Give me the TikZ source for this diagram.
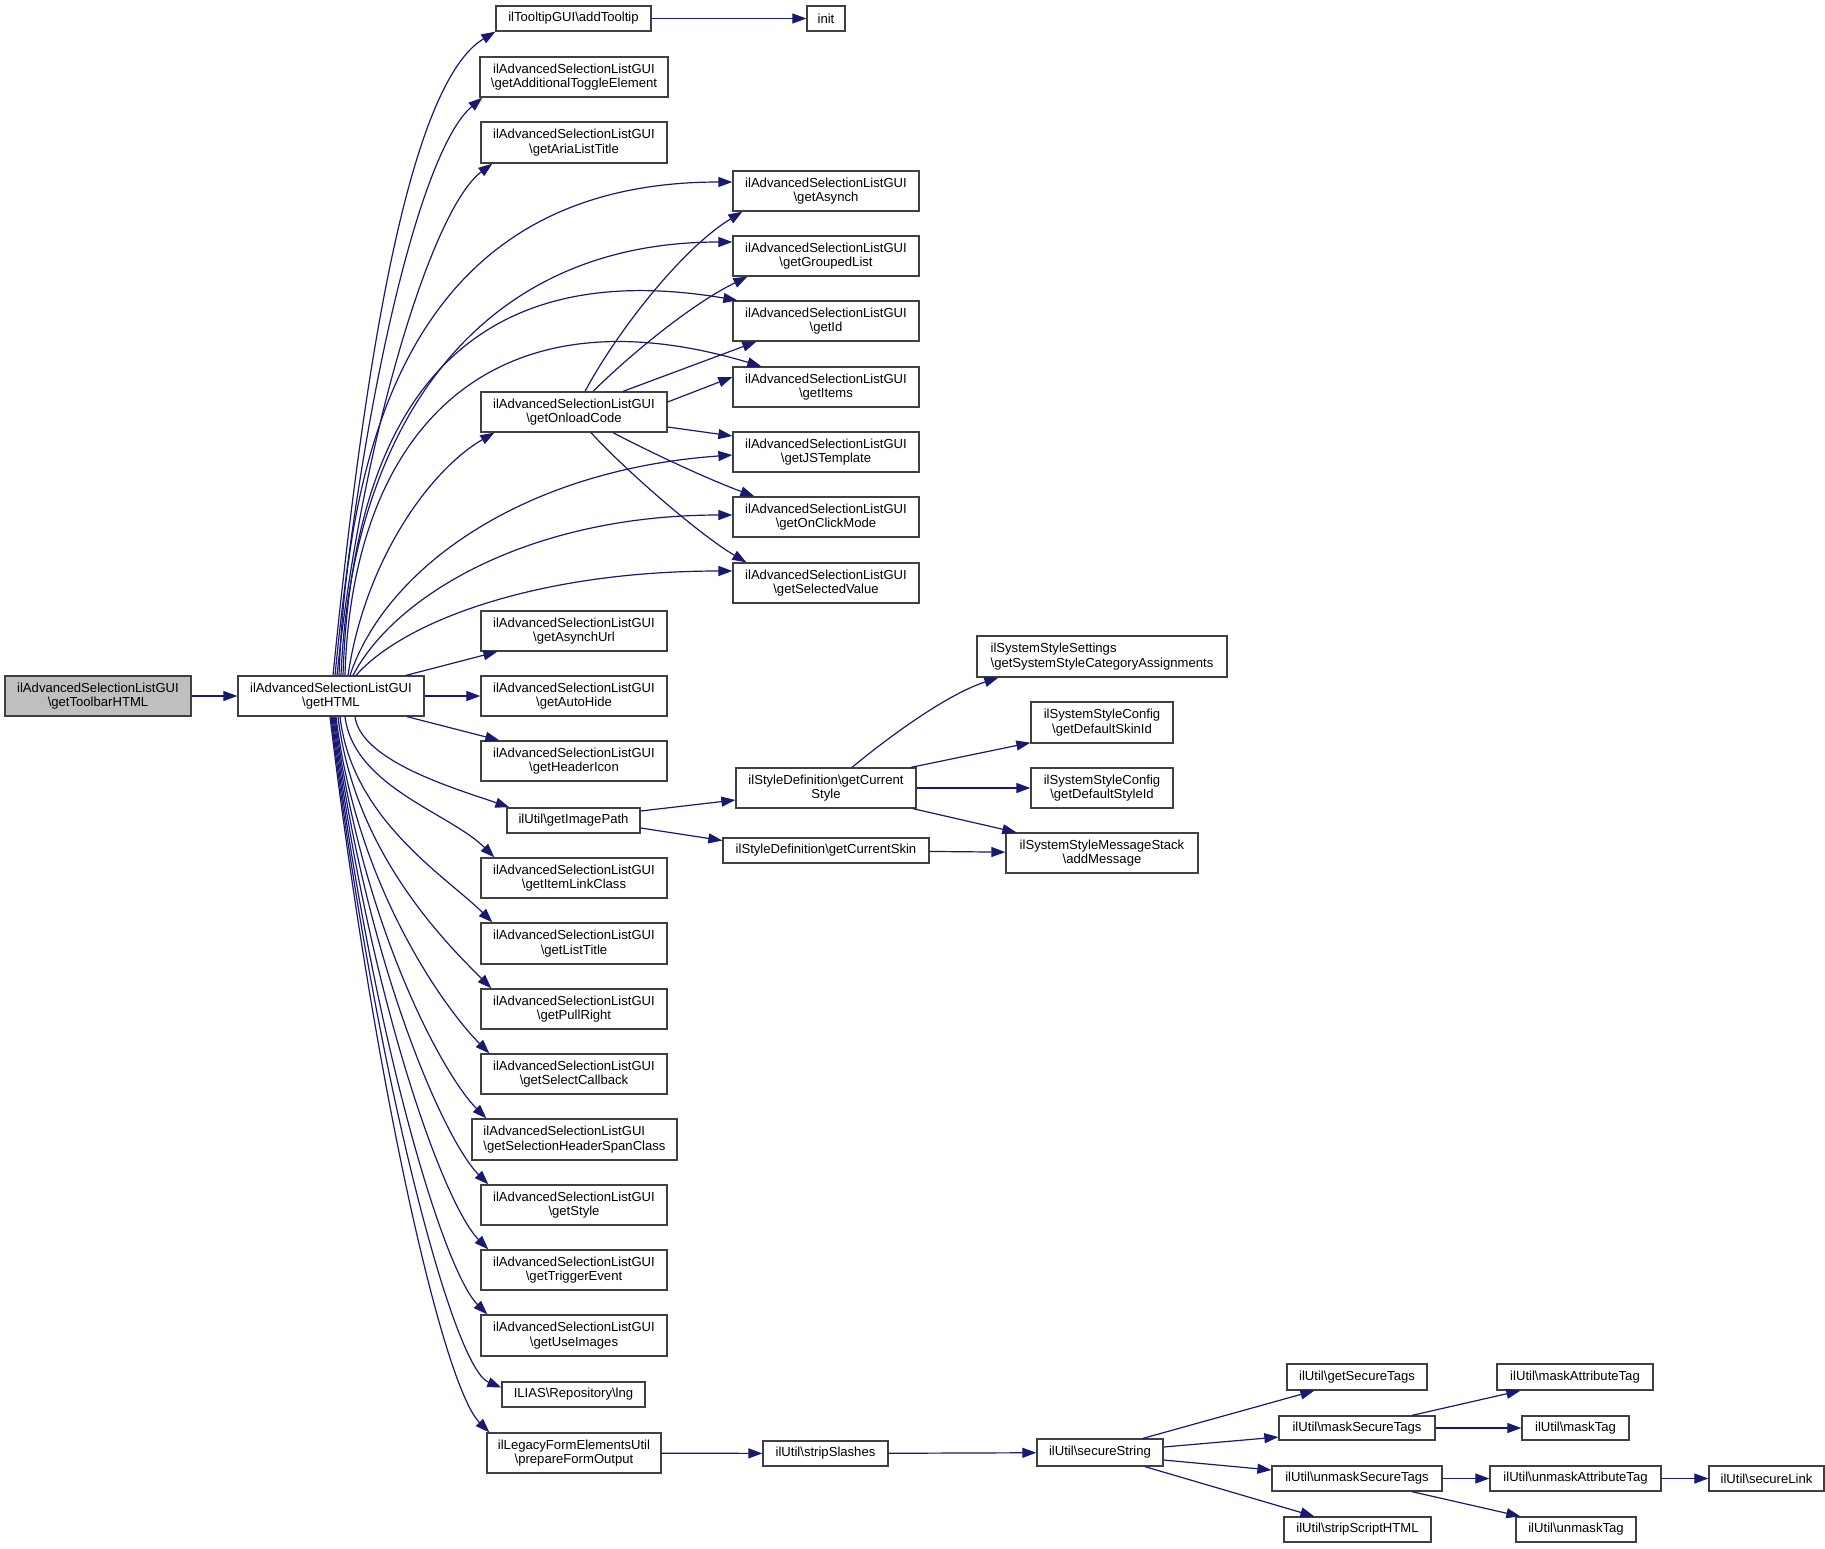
\documentclass[tikz,border=0pt]{standalone}
\usepackage{fontspec}
\setmainfont{Liberation Sans}
\usetikzlibrary{arrows.meta}
\definecolor{edgec}{HTML}{191970}
\definecolor{boxc}{HTML}{404040}
\newcommand{\bsl}{\textbackslash}
\newcommand{\bx}[7][]{\node[nbox,minimum width={(#5-#3)*1pt},minimum height={(#6-#4)*1pt},#1] (#2) at ({(#3+#5)/2},{(#4+#6)/2}) {#7};}
\begin{document}
\begin{tikzpicture}[x=1pt,y=-1pt,
 nbox/.style={draw=boxc, line width=1.3pt, fill=white, inner sep=0pt, align=center, font=\fontsize{13.1}{14.4}\selectfont},
 edge/.style={draw=edgec, line width=1.2pt, -{Triangle[length=14pt,width=10pt]}}]
\useasboundingbox (0,0) rectangle (1825,1548);
\fill[white] (0,0) rectangle (1825,1548);
% nodes
\bx[fill=gray!50]{toolbar}{5}{676}{191}{716}{ilAdvancedSelectionListGUI\\\bsl getToolbarHTML}
\bx{html}{238}{676}{424}{716}{ilAdvancedSelectionListGUI\\\bsl getHTML}
\bx{addTooltip}{496}{6}{651}{31}{ilTooltipGUI\bsl addTooltip}
\bx{init}{807}{6}{845}{31}{init}
\bx{addToggle}{480}{57}{668}{97}{ilAdvancedSelectionListGUI\\\bsl getAdditionalToggleElement}
\bx{aria}{481}{122}{667}{163}{ilAdvancedSelectionListGUI\\\bsl getAriaListTitle}
\bx{asynch}{733}{171}{919}{211}{ilAdvancedSelectionListGUI\\\bsl getAsynch}
\bx{grouped}{733}{236}{919}{276}{ilAdvancedSelectionListGUI\\\bsl getGroupedList}
\bx{id}{733}{301}{919}{341}{ilAdvancedSelectionListGUI\\\bsl getId}
\bx{items}{733}{367}{919}{407}{ilAdvancedSelectionListGUI\\\bsl getItems}
\bx{jstemplate}{733}{432}{919}{472}{ilAdvancedSelectionListGUI\\\bsl getJSTemplate}
\bx{onclick}{733}{497}{919}{537}{ilAdvancedSelectionListGUI\\\bsl getOnClickMode}
\bx{selected}{733}{563}{919}{603}{ilAdvancedSelectionListGUI\\\bsl getSelectedValue}
\bx{onload}{481}{392}{667}{432}{ilAdvancedSelectionListGUI\\\bsl getOnloadCode}
\bx{asynchurl}{481}{611}{667}{651}{ilAdvancedSelectionListGUI\\\bsl getAsynchUrl}
\bx{autohide}{481}{676}{667}{716}{ilAdvancedSelectionListGUI\\\bsl getAutoHide}
\bx{headericon}{481}{741}{667}{781}{ilAdvancedSelectionListGUI\\\bsl getHeaderIcon}
\bx{imagepath}{507}{808}{640}{833}{ilUtil\bsl getImagePath}
\bx{itemlink}{481}{858}{667}{898}{ilAdvancedSelectionListGUI\\\bsl getItemLinkClass}
\bx{listtitle}{481}{923}{667}{964}{ilAdvancedSelectionListGUI\\\bsl getListTitle}
\bx{pullright}{481}{989}{667}{1029}{ilAdvancedSelectionListGUI\\\bsl getPullRight}
\bx{selectcb}{481}{1054}{667}{1094}{ilAdvancedSelectionListGUI\\\bsl getSelectCallback}
\bx[align=left]{selheader}{472}{1119}{677}{1160}{ilAdvancedSelectionListGUI\\\bsl getSelectionHeaderSpanClass}
\bx{style}{481}{1185}{667}{1225}{ilAdvancedSelectionListGUI\\\bsl getStyle}
\bx{trigger}{481}{1250}{667}{1290}{ilAdvancedSelectionListGUI\\\bsl getTriggerEvent}
\bx{useimages}{481}{1315}{667}{1356}{ilAdvancedSelectionListGUI\\\bsl getUseImages}
\bx{lng}{502}{1382}{645}{1407}{ILIAS\bsl Repository\bsl lng}
\bx{prepare}{487}{1433}{661}{1473}{ilLegacyFormElementsUtil\\\bsl prepareFormOutput}
\bx{stripslashes}{763}{1441}{888}{1466}{ilUtil\bsl stripSlashes}
\bx{currentstyle}{736}{768}{916}{808}{ilStyleDefinition\bsl getCurrent\\Style}
\bx{currentskin}{723}{838}{929}{863}{ilStyleDefinition\bsl getCurrentSkin}
\bx[align=left]{catassign}{977}{636}{1227}{677}{ilSystemStyleSettings\\\bsl getSystemStyleCategoryAssignments}
\bx{defskin}{1031}{702}{1173}{743}{ilSystemStyleConfig\\\bsl getDefaultSkinId}
\bx{defstyle}{1031}{768}{1173}{808}{ilSystemStyleConfig\\\bsl getDefaultStyleId}
\bx{addmessage}{1006}{833}{1198}{873}{ilSystemStyleMessageStack\\\bsl addMessage}
\bx{securestring}{1037}{1439}{1163}{1466}{ilUtil\bsl secureString}
\bx{getsecuretags}{1287}{1364}{1427}{1390}{ilUtil\bsl getSecureTags}
\bx{masksecuretags}{1279}{1416}{1435}{1440}{ilUtil\bsl maskSecureTags}
\bx{unmasksecuretags}{1272}{1466}{1442}{1491}{ilUtil\bsl unmaskSecureTags}
\bx{stripscript}{1284}{1517}{1431}{1542}{ilUtil\bsl stripScriptHTML}
\bx{maskattr}{1497}{1364}{1653}{1390}{ilUtil\bsl maskAttributeTag}
\bx{masktag}{1522}{1416}{1629}{1440}{ilUtil\bsl maskTag}
\bx{unmaskattr}{1490}{1466}{1661}{1491}{ilUtil\bsl unmaskAttributeTag}
\bx{securelink}{1709}{1466}{1824}{1491}{ilUtil\bsl secureLink}
\bx{unmasktag}{1516}{1517}{1636}{1542}{ilUtil\bsl unmaskTag}
% edges
\draw[edge] (toolbar) -- (html);
\draw[edge] (addTooltip) -- (init);
\draw[edge] ([xshift=2pt]html.north) .. controls (363,376) and (407,85) .. (addTooltip.south west);
\draw[edge] ([xshift=4pt]html.north) .. controls (362,400) and (420,150) .. ([xshift=3pt]addToggle.south west);
\draw[edge] ([xshift=6pt]html.north) .. controls (360,450) and (430,210) .. ([xshift=12pt]aria.south west);
\draw[edge] ([xshift=8pt]html.north) .. controls (350,380) and (450,182) .. ([yshift=9pt]asynch.west);
\draw[edge] ([xshift=10pt]html.north) .. controls (350,450) and (460,242) .. ([yshift=14pt]grouped.west);
\draw[edge] ([xshift=12pt]html.north) .. controls (352,400) and (470,255) .. ([xshift=5pt]id.north west);
\draw[edge] ([xshift=14pt]html.north) .. controls (352,430) and (490,285) .. ([xshift=29pt]items.north west);
\draw[edge] ([xshift=17pt]html.north) .. controls (365,560) and (430,470) .. ([xshift=14pt]onload.south west);
\draw[edge] ([xshift=19pt]html.north) .. controls (385,570) and (520,470) .. ([yshift=-3pt]jstemplate.west);
\draw[edge] ([xshift=22pt]html.north) .. controls (395,595) and (530,515) .. ([yshift=2pt]onclick.west);
\draw[edge] ([xshift=25pt]html.north) .. controls (405,620) and (540,571) .. ([yshift=12pt]selected.west);
\draw[edge] ([xshift=75pt]html.north) -- ([xshift=17pt]asynchurl.south west);
\draw[edge] (html) -- (autohide);
\draw[edge] ([xshift=76pt]html.south) -- ([xshift=19pt]headericon.north west);
\draw[edge] ([xshift=24pt]html.south) .. controls (361,762) and (460,790) .. ([xshift=3pt]imagepath.north west);
\draw[edge] ([xshift=14pt]html.south) .. controls (354,787) and (450,813) .. ([xshift=14pt]itemlink.north west);
\draw[edge] ([xshift=9pt]html.south) .. controls (352,820) and (447,877) .. ([xshift=12pt]listtitle.north west);
\draw[edge] ([xshift=7pt]html.south) .. controls (354,852) and (446,943) .. ([xshift=11pt]pullright.north west);
\draw[edge] ([xshift=5pt]html.south) .. controls (356,885) and (444,1008) .. ([xshift=9pt]selectcb.north west);
\draw[edge] ([xshift=4pt]html.south) .. controls (359,917) and (441,1073) .. ([xshift=15pt]selheader.north west);
\draw[edge] ([xshift=3pt]html.south) .. controls (362,950) and (442,1138) .. ([xshift=8pt]style.north west);
\draw[edge] ([xshift=2pt]html.south) .. controls (365,983) and (442,1203) .. ([xshift=8pt]trigger.north west);
\draw[edge] ([xshift=1pt]html.south) .. controls (368,1015) and (441,1268) .. ([xshift=7pt]useimages.north west);
\draw[edge] (html.south) .. controls (371,1051) and (451,1367) .. ([yshift=7pt]lng.west);
\draw[edge] ([xshift=-1pt]html.south) .. controls (373,1074) and (442,1385) .. ([xshift=3pt]prepare.north west);
% onload
\draw[edge] ([xshift=11pt]onload.north) .. controls (615,335) and (680,250) .. ([xshift=10pt]asynch.south west);
\draw[edge] ([xshift=19pt]onload.north) .. controls (630,355) and (690,305) .. ([xshift=15pt]grouped.south west);
\draw[edge] ([xshift=49pt]onload.north) -- ([xshift=24pt]id.south west);
\draw[edge] ([yshift=10pt]onload.east) -- ([yshift=10pt]items.west);
\draw[edge] ([yshift=-15pt]onload.east) -- ([yshift=16pt]jstemplate.west);
\draw[edge] ([xshift=39pt]onload.south) .. controls (650,452) and (705,478) .. ([xshift=22pt]onclick.north west);
\draw[edge] ([xshift=17pt]onload.south) .. controls (625,470) and (700,535) .. ([xshift=14pt]selected.north west);
% image path
\draw[edge] ([yshift=9.5pt]imagepath.east) -- ([yshift=-12pt]currentstyle.west);
\draw[edge] ([yshift=-7.5pt]imagepath.east) -- ([yshift=10pt]currentskin.west);
\draw[edge] ([xshift=26pt]currentstyle.north) .. controls (885,740) and (945,695) .. ([xshift=22pt]catassign.south west);
\draw[edge] ([xshift=85pt]currentstyle.north) -- ([yshift=1pt]defskin.south west);
\draw[edge] (currentstyle) -- (defstyle);
\draw[edge] ([xshift=87pt]currentstyle.south) -- ([xshift=11pt]addmessage.north west);
\draw[edge] (currentskin) -- (addmessage);
% prepare chain
\draw[edge] (prepare) -- (stripslashes);
\draw[edge] (stripslashes) -- (securestring);
\draw[edge] ([xshift=43pt]securestring.north) -- ([xshift=28pt]getsecuretags.south west);
\draw[edge] ([yshift=5.5pt]securestring.east) -- ([yshift=-9pt]masksecuretags.west);
\draw[edge] ([yshift=-7.5pt]securestring.east) -- ([yshift=8.5pt]unmasksecuretags.west);
\draw[edge] ([xshift=45pt]securestring.south) -- ([xshift=31pt]stripscript.north west);
\draw[edge] ([xshift=55pt]masksecuretags.north) -- ([xshift=24pt]maskattr.south west);
\draw[edge] (masksecuretags) -- (masktag);
\draw[edge] (unmasksecuretags) -- (unmaskattr);
\draw[edge] ([xshift=55pt]unmasksecuretags.south) -- ([xshift=5pt]unmasktag.north west);
\draw[edge] (unmaskattr) -- (securelink);
\end{tikzpicture}
\end{document}
